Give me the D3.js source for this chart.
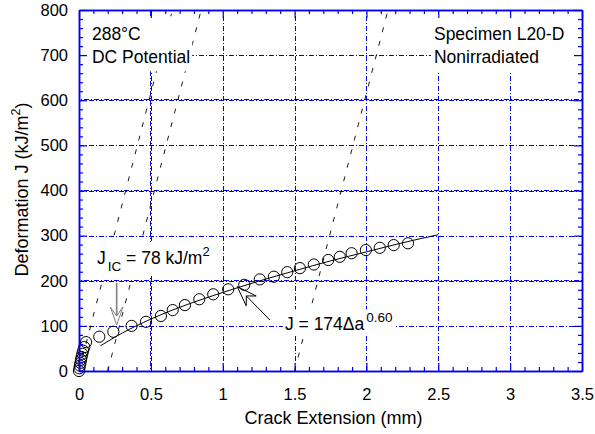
<!DOCTYPE html>
<html>
<head>
<meta charset="utf-8">
<script src="https://cdn.jsdelivr.net/npm/d3@7"></script>
<style>
  body { margin: 0; background: #fff; }
  text { font-family: "Liberation Sans", Arial, Helvetica, sans-serif; }
</style>
</head>
<body>
<svg id="chart" width="595" height="434"></svg>
<script>
var margin = {top: 10, right: 13, bottom: 63, left: 79};

// measured points: crack extension (mm) and J (kJ/m2)
var crackExt = [0, 0.003, 0.006, 0.010, 0.014, 0.018, 0.023, 0.029, 0.037, 0.049,
  0.141, 0.239, 0.366, 0.466, 0.570, 0.652, 0.737, 0.837, 0.934, 1.038,
  1.150, 1.258, 1.356, 1.449, 1.537, 1.634, 1.734, 1.815, 1.897, 1.996,
  2.093, 2.190, 2.289];
var jValues = [0, 6, 12, 18, 25, 31, 38, 45, 53, 64,
  76, 87, 100, 109, 122, 135, 146, 159, 170, 181,
  191, 203, 209, 219, 228, 236, 246, 253, 261, 268,
  273, 279, 283];

// fitted power-law curve (J = 174 da^0.60)
var fitExt = [0.15, 0.3, 0.5, 0.75, 1.0, 1.25, 1.5, 1.75, 2.0, 2.25, 2.5];
var fitJ = [56, 84, 115, 147, 174, 199, 222, 244, 264, 284, 302];

// blunting / exclusion lines, from J = 0 up to J = 800
var bluntStart = [0, 0.2, 1.5];
var bluntEnd = [0.65, 0.85, 2.15];
var bluntJ = [0, 800];

// axes
var xTicks = [0, 0.5, 1, 1.5, 2, 2.5, 3, 3.5];
var yTicks = [0, 100, 200, 300, 400, 500, 600, 700, 800];
var xMinor = [0.1, 0.2, 0.3, 0.4, 0.6, 0.7, 0.8, 0.9, 1.1, 1.2, 1.3, 1.4, 1.6, 1.7, 1.8, 1.9,
  2.1, 2.2, 2.3, 2.4, 2.6, 2.7, 2.8, 2.9, 3.1, 3.2, 3.3, 3.4];
var yMinor = [20, 40, 60, 80, 120, 140, 160, 180, 220, 240, 260, 280, 320, 340, 360, 380,
  420, 440, 460, 480, 520, 540, 560, 580, 620, 640, 660, 680, 720, 740, 760, 780];
var xGrid = [0.5, 1, 1.5, 2, 2.5, 3];
var yGrid = [100, 200, 300, 400, 500, 600, 700];
var heavyX = [0.5];
var heavyY = [200, 400, 600];

var blue = "#0000f0";

var svg = d3.select("#chart"),
  width = +svg.attr("width") - margin.left - margin.right,
  height = +svg.attr("height") - margin.top - margin.bottom;

var x = d3.scaleLinear().domain([0, 3.5]).range([margin.left, margin.left + width]);
var y = d3.scaleLinear().domain([0, 800]).range([margin.top + height, margin.top]);

// grid: every line is dash-dot; the heavy ones get a second, shifted copy beside them
function gx(d) { return Math.round(x(d)) + 0.5; }
function gy(d) { return Math.round(y(d)) + 0.5; }

var grid = svg.append("g");
[0, 1].forEach(function(k) {
  grid.selectAll(".hgrid" + k)
    .data(k ? heavyY : yGrid)
    .enter()
    .append("line")
      .attr("x1", x(0)).attr("x2", x(3.5))
      .attr("y1", function(d) { return gy(d) - k; })
      .attr("y2", function(d) { return gy(d) - k; })
      .attr("stroke", blue)
      .attr("stroke-width", 1)
      .attr("stroke-dasharray", "5,2,1,2")
      .attr("stroke-dashoffset", k * 5);
  grid.selectAll(".vgrid" + k)
    .data(k ? heavyX : xGrid)
    .enter()
    .append("line")
      .attr("y1", y(0)).attr("y2", y(800))
      .attr("x1", function(d) { return gx(d) - k; })
      .attr("x2", function(d) { return gx(d) - k; })
      .attr("stroke", blue)
      .attr("stroke-width", 1)
      .attr("stroke-dasharray", "5,2,1,2")
      .attr("stroke-dashoffset", k * 5);
});

// blunting lines
svg.append("g")
  .selectAll("line")
  .data(bluntStart)
  .enter()
  .append("line")
    .attr("x1", function(d) { return x(d); })
    .attr("y1", y(bluntJ[0]))
    .attr("x2", function(d, i) { return x(bluntEnd[i]); })
    .attr("y2", y(bluntJ[1]))
    .attr("stroke", "#000")
    .attr("stroke-width", 0.9)
    .attr("stroke-dasharray", "5,9");

// fit curve
var fitLine = d3.line()
  .x(function(d, i) { return x(fitExt[i]); })
  .y(function(d) { return y(d); })
  .curve(d3.curveMonotoneX);
svg.append("path")
  .attr("d", fitLine(fitJ))
  .attr("fill", "none")
  .attr("stroke", "#000")
  .attr("stroke-width", 1);

// data circles
svg.append("g")
  .selectAll("circle")
  .data(jValues)
  .enter()
  .append("circle")
    .attr("cx", function(d, i) { return x(crackExt[i]); })
    .attr("cy", function(d) { return y(d); })
    .attr("r", 5.6)
    .attr("fill", "none")
    .attr("stroke", "#000")
    .attr("stroke-width", 1);

// annotation with white box behind it
function label(g, pad) {
  var b = g.node().getBBox();
  g.insert("rect", ":first-child")
    .attr("x", b.x - pad[3]).attr("y", b.y - pad[0])
    .attr("width", b.width + pad[1] + pad[3])
    .attr("height", b.height + pad[0] + pad[2])
    .attr("fill", "#fff");
}

var fs = 17.5;
var tl = svg.append("g");
tl.append("text").attr("x", x(0.09)).attr("y", y(733)).attr("font-size", fs).text("288°C");
tl.append("text").attr("x", x(0.09)).attr("y", y(682)).attr("font-size", fs).text("DC Potential");
label(tl, [8, 2, 4, 12]);

var tr = svg.append("g");
tr.append("text").attr("x", x(2.47)).attr("y", y(733)).attr("font-size", fs).text("Specimen L20-D");
tr.append("text").attr("x", x(2.47)).attr("y", y(682)).attr("font-size", fs).text("Nonirradiated");
label(tr, [8, 12, 4, 3]);

var jic = svg.append("g");
var jt = jic.append("text").attr("x", x(0.125)).attr("y", y(237)).attr("font-size", fs);
jt.append("tspan").text("J");
jt.append("tspan").attr("font-size", 13.5).attr("dx", 2).attr("dy", 7).text("IC");
jt.append("tspan").attr("dy", -7).text(" = 78 kJ/m");
jt.append("tspan").attr("font-size", 13).attr("dy", -8).text("2");
label(jic, [2, 2, 2, 2]);

var fitLab = svg.append("g");
var ft = fitLab.append("text").attr("x", x(1.433)).attr("y", y(90)).attr("font-size", fs);
ft.append("tspan").text("J = 174Δa");
ft.append("tspan").attr("font-size", 13.5).attr("dx", 2).attr("dy", -8).text("0.60");
label(fitLab, [1, 2, 1, 2]);

// arrows
function arrow(tail, tip, len, half, notch, color, width) {
  var x0 = x(tail[0]), y0 = y(tail[1]), x1 = x(tip[0]), y1 = y(tip[1]);
  var dx = x1 - x0, dy = y1 - y0, l = Math.sqrt(dx * dx + dy * dy);
  var ux = dx / l, uy = dy / l, px = -uy, py = ux;
  var bx = x1 - ux * len, by = y1 - uy * len;
  var nx = x1 - ux * notch, ny = y1 - uy * notch;
  var g = svg.append("g");
  g.append("line")
    .attr("x1", x0).attr("y1", y0).attr("x2", nx).attr("y2", ny)
    .attr("stroke", color).attr("stroke-width", width);
  g.append("path")
    .attr("d", "M" + x1 + "," + y1 +
      "L" + (bx + px * half) + "," + (by + py * half) +
      "L" + nx + "," + ny +
      "L" + (bx - px * half) + "," + (by - py * half) + "Z")
    .attr("fill", "none")
    .attr("stroke", color)
    .attr("stroke-width", 1);
}
arrow([0.262, 195], [0.262, 102], 18, 6.3, 9, "#808080", 1.6);
arrow([1.328, 113], [1.101, 187], 20, 7, 13, "#000", 1);

// axes (ticks inside)
function styleAxis(g) {
  g.selectAll(".domain").attr("stroke", blue).attr("stroke-width", 1.5);
  g.selectAll(".tick line").attr("stroke", blue).attr("stroke-width", 1.2);
  g.selectAll("text").attr("font-size", 16.5).attr("fill", "#000")
    .attr("font-family", "Liberation Sans, Arial, sans-serif");
}

svg.append("g").attr("transform", "translate(0," + y(0) + ")")
  .call(d3.axisBottom(x).tickValues(xMinor).tickSize(-4).tickFormat("").tickSizeOuter(0))
  .call(styleAxis);
svg.append("g").attr("transform", "translate(0," + y(800) + ")")
  .call(d3.axisTop(x).tickValues(xMinor).tickSize(-4).tickFormat("").tickSizeOuter(0))
  .call(styleAxis);
svg.append("g").attr("transform", "translate(" + x(0) + ",0)")
  .call(d3.axisLeft(y).tickValues(yMinor).tickSize(-4).tickFormat("").tickSizeOuter(0))
  .call(styleAxis);
svg.append("g").attr("transform", "translate(" + x(3.5) + ",0)")
  .call(d3.axisRight(y).tickValues(yMinor).tickSize(-4).tickFormat("").tickSizeOuter(0))
  .call(styleAxis);

svg.append("g").attr("transform", "translate(0," + y(0) + ")")
  .call(d3.axisBottom(x).tickValues(xTicks).tickSize(-8).tickPadding(17).tickSizeOuter(0)
    .tickFormat(d3.format("")))
  .call(styleAxis);
svg.append("g").attr("transform", "translate(0," + y(800) + ")")
  .call(d3.axisTop(x).tickValues(xTicks).tickSize(-8).tickFormat("").tickSizeOuter(0))
  .call(styleAxis);
svg.append("g").attr("transform", "translate(" + x(0) + ",0)")
  .call(d3.axisLeft(y).tickValues(yTicks).tickSize(-8).tickPadding(11).tickSizeOuter(0))
  .call(styleAxis);
svg.append("g").attr("transform", "translate(" + x(3.5) + ",0)")
  .call(d3.axisRight(y).tickValues(yTicks).tickSize(-8).tickFormat("").tickSizeOuter(0))
  .call(styleAxis);

// axis titles
svg.append("text")
  .attr("x", margin.left + width / 2 + 3)
  .attr("y", 424)
  .attr("text-anchor", "middle")
  .attr("font-size", 18)
  .text("Crack Extension (mm)");

var yt = svg.append("text")
  .attr("transform", "translate(28," + (margin.top + height / 2 - 1) + ") rotate(-90)")
  .attr("text-anchor", "middle")
  .attr("font-size", 18);
yt.append("tspan").text("Deformation J (kJ/m");
yt.append("tspan").attr("font-size", 12.5).attr("dy", -8).text("2");
yt.append("tspan").attr("dy", 8).text(")");
</script>
</body>
</html>
